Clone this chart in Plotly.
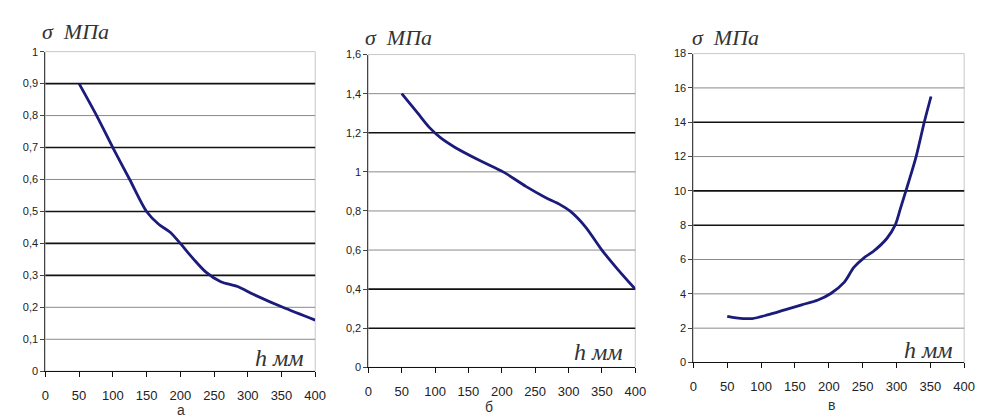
import plotly.graph_objects as go

# ---- data ----
h_a = [50, 76, 100, 125, 150, 168, 185, 200, 220, 238, 260, 285, 309, 352, 400]
s_a = [0.9, 0.8, 0.7, 0.6, 0.5, 0.46, 0.435, 0.4, 0.35, 0.31, 0.28, 0.265, 0.24, 0.2, 0.16]

h_b = [50, 74, 92, 108, 130, 167, 202, 236, 266, 286, 302, 325, 350, 374, 400]
s_b = [1.4, 1.3, 1.225, 1.175, 1.125, 1.058, 1.0, 0.926, 0.868, 0.835, 0.8, 0.72, 0.6, 0.5, 0.4]

h_c = [50, 63, 87, 111, 135, 160, 184, 203, 223, 237, 252, 266, 286, 298, 306, 317, 329, 341, 351]
s_c = [2.69, 2.6, 2.56, 2.79, 3.07, 3.36, 3.64, 4.02, 4.68, 5.54, 6.1, 6.48, 7.24, 8.0, 9.0, 10.4, 12, 14, 15.5]

x_ticks = [0, 50, 100, 150, 200, 250, 300, 350, 400]
x_ticklabels = ["0", "50", "100", "150", "200", "250", "300", "350", "400"]

y_ticks_a = [0, 0.1, 0.2, 0.3, 0.4, 0.5, 0.6, 0.7, 0.8, 0.9, 1.0]
y_labels_a = ["0", "0,1", "0,2", "0,3", "0,4", "0,5", "0,6", "0,7", "0,8", "0,9", "1"]
y_ticks_b = [0, 0.2, 0.4, 0.6, 0.8, 1.0, 1.2, 1.4, 1.6]
y_labels_b = ["0", "0,2", "0,4", "0,6", "0,8", "1", "1,2", "1,4", "1,6"]
y_ticks_c = [0, 2, 4, 6, 8, 10, 12, 14, 16, 18]
y_labels_c = ["0", "2", "4", "6", "8", "10", "12", "14", "16", "18"]

# gridline appearance (dark / light), as in the scanned picture
dark_a = [0.9, 0.7, 0.5, 0.4, 0.3]
dark_b = [1.2, 0.4, 0.2]
dark_c = [14, 10, 8]

panel_letters = ["а", "б", "в"]
y_title = "σ  МПа"
x_title = "h мм"

W, H = 988, 419
def px(x): return x / W
def py(y): return 1 - y / H

fig = go.Figure()

panels = [
    dict(h=h_a, s=s_a, yt=y_ticks_a, yl=y_labels_a, dark=dark_a, rng=[0, 1.0],
         dx=[42, 316], dy=[376, 47], tpos=(37, 26), hpos=(307, 362), lpos=(180, 416)),
    dict(h=h_b, s=s_b, yt=y_ticks_b, yl=y_labels_b, dark=dark_b, rng=[0, 1.6],
         dx=[370, 641], dy=[372, 50], tpos=(365, 32), hpos=(631, 356), lpos=(492, 413)),
    dict(h=h_c, s=s_c, yt=y_ticks_c, yl=y_labels_c, dark=dark_c, rng=[0, 18],
         dx=[700, 975], dy=[367, 49], tpos=(697, 32), hpos=(966, 354), lpos=(840, 411)),
]

xtickfont = dict(family="Liberation Sans, Arial", size=13, color="#222")
ytickfont = dict(family="Liberation Sans, Arial", size=11, color="#222")
shapes = []
annotations = []
for i, p in enumerate(panels):
    n = "" if i == 0 else str(i + 1)
    xa, ya = "x" + n, "y" + n
    fig.add_trace(go.Scatter(x=p["h"], y=p["s"], mode="lines", xaxis=xa, yaxis=ya,
                             line=dict(color="#1b1b7c", width=2.8, shape="spline", smoothing=0.8),
                             showlegend=False, hoverinfo="skip"))
    fig.layout["xaxis" + n] = dict(
        domain=[px(p["dx"][0]), px(p["dx"][1])], range=[0, 400], anchor=ya,
        tickvals=x_ticks, ticktext=x_ticklabels, showgrid=False, zeroline=False,
        showline=True, linecolor="#111", linewidth=1, ticks="outside", ticklen=5,
        tickcolor="#111", tickfont=xtickfont, ticklabelstandoff=7, fixedrange=True)
    fig.layout["yaxis" + n] = dict(
        domain=[py(p["dy"][0]), py(p["dy"][1])], range=p["rng"], anchor=xa,
        tickvals=p["yt"], ticktext=p["yl"], showgrid=False, zeroline=False,
        showline=True, linecolor="#444", linewidth=1, ticks="outside", ticklen=4,
        tickcolor="#444", tickfont=ytickfont, fixedrange=True)
    # light border (top/right)
    shapes.append(dict(type="rect", xref=xa + " domain", yref=ya + " domain",
                       x0=0, x1=1, y0=0, y1=1, line=dict(color="#c8c8c8", width=1),
                       layer="below"))
    for v in p["yt"][1:-1]:
        dark = v in p["dark"]
        shapes.append(dict(type="line", xref=xa + " domain", yref=ya, x0=0, x1=1,
                           y0=v, y1=v, layer="below",
                           line=dict(color="#111" if dark else "#8a8a8a",
                                     width=1.6 if dark else 1)))
    annotations.append(dict(text=y_title, x=px(p["tpos"][0]), y=py(p["tpos"][1]),
                            xref="paper", yref="paper", xanchor="left", yanchor="middle",
                            showarrow=False,
                            font=dict(family="Liberation Serif, Times New Roman", size=22,
                                      color="#333", style="italic")))
    annotations.append(dict(text=x_title, x=px(p["hpos"][0]), y=py(p["hpos"][1]),
                            xref="paper", yref="paper", xanchor="right", yanchor="middle",
                            showarrow=False,
                            font=dict(family="Liberation Serif, Times New Roman", size=24,
                                      color="#333", style="italic")))
    annotations.append(dict(text=panel_letters[i], x=px(p["lpos"][0]), y=py(p["lpos"][1]),
                            xref="paper", yref="paper", xanchor="center", yanchor="middle",
                            showarrow=False,
                            font=dict(family="Liberation Sans, Arial", size=14, color="#333")))

fig.update_layout(width=W, height=H, margin=dict(l=0, r=0, t=0, b=0),
                  paper_bgcolor="white", plot_bgcolor="white",
                  shapes=shapes, annotations=annotations)

fig.write_html("out.html", config={"displayModeBar": False})
